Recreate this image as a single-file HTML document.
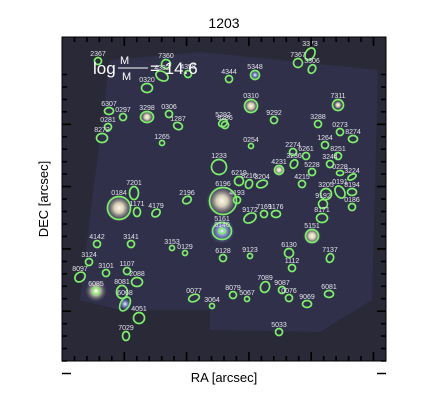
<!DOCTYPE html>
<html><head><meta charset="utf-8"><style>
html,body{margin:0;padding:0;background:#fff;}
svg{display:block;font-family:"Liberation Sans",sans-serif;}
</style></head><body>
<svg id="chart" width="440" height="400" viewBox="0 0 440 400" xmlns="http://www.w3.org/2000/svg">
<defs>
<radialGradient id="glow"><stop offset="0" stop-color="#fffbe8"/><stop offset="0.35" stop-color="#e8e0c0" stop-opacity="0.9"/><stop offset="1" stop-color="#5a5a70" stop-opacity="0"/></radialGradient>
<radialGradient id="bglow"><stop offset="0" stop-color="#f0f4ff"/><stop offset="0.4" stop-color="#8aa0e0" stop-opacity="0.8"/><stop offset="1" stop-color="#5060a0" stop-opacity="0"/></radialGradient>
</defs>
<text x="224" y="28" font-size="14" text-anchor="middle" fill="#000">1203</text>
<rect x="62" y="37" width="324" height="324" fill="#292937"/>
<polygon points="92,200 110,60 200,52 300,62 378,70 372,300 320,332 210,330 210,310 120,310 80,300" fill="#30304a"/>
<g id="stars"></g>
<g id="sources"></g>
<path id="ticks" d="" stroke="#000" stroke-width="1.6" fill="none"/>
<rect x="62" y="37" width="324" height="324" fill="none" stroke="#000" stroke-width="1"/>
<text x="93" y="74" font-size="17" fill="#fff">log</text>
<text x="120" y="64" font-size="11" fill="#fff">M</text>
<line x1="118" y1="68" x2="148" y2="68" stroke="#fff" stroke-width="1"/>
<text x="122" y="80" font-size="11" fill="#fff">M</text>
<text x="150" y="74" font-size="17" fill="#fff">= 14.6</text>
<text x="224" y="382" font-size="13" text-anchor="middle" fill="#000">RA [arcsec]</text>
<text x="48" y="199" font-size="13" text-anchor="middle" fill="#000" transform="rotate(-90 48 199)">DEC [arcsec]</text>
</svg>
<script>
const labels=["2367","7360","4358","4344","5348","3373","7367","3306","4332","0320","0310","7311","6307","0297","3298","0306","1287","5292","9292","3288","2274","0273","8274","0281","8272","1265","8286","1264","6261","0254","8251","3244","3236","4231","1233","6219","8216","3204","0228","3224","5228","4215","3205","7201","2196","4193","9192","0191","8194","0184","1171","4179","9172","7169","1176","0186","8171","5161","5151","4142","3141","3153","0129","6128","9123","6130","7137","1112","3124","3101","1107","8097","6085","8081","2088","6068","4051","7029","0077","3064","8079","5067","7089","9087","0076","9069","6081","5033","0140","6196"];
const xs=[98,166,188,229,255,310,298,312,162,147,251,338,109,123,147,169,178,223,274,318,293,340,353,108,102,162,225,325,306,251,338,330,294,279,219,239,249,262,340,352,312,302,326,134,187,237,323,340,352,119,137,156,250,264,276,352,322,222,312,97,131,172,185,223,250,289,330,292,89,106,127,80,96,122,137,125,139,126,194,212,233,247,265,282,289,307,329,279,222,223];
const ys=[61,64,74,79,75,54,63,69,76,88,106,105,111,117,117,114,126,123,120,124,152,132,139,127,138,143,125,145,156,146,156,164,164,170,167,181,184,184,173,177,172,184,194,193,200,200,204,192,192,208,212,213,218,214,214,207,218,231,236,244,244,248,253,258,256,253,258,268,262,273,271,277,291,292,282,304,318,336,298,306,295,299,287,290,298,304,294,332,231,201];
const rxs=[3,4,3,3,4,4,4,3,6,5,6,5,4,3,6,3,4,3,3,3,3,3,4,3,5,2,3,3,3,2,3,3,3,4,7,4,3,5,3,4,3,3,5,4,4,3,4,4,4,11,3,4,6,3,4,3,5,9,6,3,3,2,2,3,2,4,3,3,3,3,3,5,3,5,5,4,5,3,5,2,3,2,4,3,3,4,4,3,3,13];
const rys=[3,4,3,3,4,6,4,4,4,4,6,5,3,3,5,3,3,4,3,3,3,3,3,3,4,2,3,3,3,2,3,3,4,4,7,4,4,3,2,2,3,3,5,6,3,3,4,6,3,11,4,3,4,3,3,3,4,8,6,3,3,2,2,3,2,4,4,3,3,3,3,4,3,6,4,7,5,4,3,2,3,2,5,3,3,3,3,3,2,13];
const angs=[0,60,0,0,0,30,30,30,30,0,0,0,0,0,0,0,20,60,0,0,0,0,0,0,0,0,30,0,0,0,0,0,30,0,30,0,20,-20,0,-30,0,0,0,0,-30,0,30,-30,0,0,0,-40,-30,0,0,0,0,0,0,0,0,0,0,0,0,0,20,0,0,0,0,-40,0,0,0,30,0,0,-20,0,0,0,20,0,0,0,0,0,0,0];
const brightStars=[[119,208,14,"glow"],[222,201,16,"glow"],[222,231,13,"bglow"],[312,236,9,"glow"],[251,106,8,"glow"],[96,291,11,"glow"],[147,117,7,"glow"],[279,170,6,"glow"],[125,304,6,"bglow"],[338,105,5,"glow"],[255,75,5,"bglow"]];
const ns="http://www.w3.org/2000/svg";
const sg=document.getElementById('stars');
brightStars.forEach(s=>{const c=document.createElementNS(ns,'circle');c.setAttribute('cx',s[0]);c.setAttribute('cy',s[1]);c.setAttribute('r',s[2]);c.setAttribute('fill','url(#'+s[3]+')');


sg.appendChild(c);});
const g=document.getElementById('sources');
labels.forEach((l,i)=>{
 const e=document.createElementNS(ns,'ellipse');
 e.setAttribute('cx',xs[i]);e.setAttribute('cy',ys[i]);e.setAttribute('rx',rxs[i]+0.5);e.setAttribute('ry',rys[i]+0.5);
 e.setAttribute('transform','rotate('+angs[i]+' '+xs[i]+' '+ys[i]+')');
 e.setAttribute('fill','none');e.setAttribute('stroke','#7def6a');e.setAttribute('stroke-width','1.7');
 
 
 g.appendChild(e);
 const t=document.createElementNS(ns,'text');
 t.setAttribute('x',xs[i]);t.setAttribute('y',ys[i]-rys[i]-2);t.setAttribute('font-size','7');t.setAttribute('fill','#e4e4ec');t.setAttribute('text-anchor','middle');
 t.textContent=l;
 
 
 g.appendChild(t);
});
let d='';
for(let k=1;k<26;k++){const p=(62+k*12.46).toFixed(1);const len=(k%5===0)?9:5;
 d+='M'+p+' 361v-'+len+'M'+p+' 37v'+len+'M62 '+p+'h'+len+'M386 '+p+'h-'+len;}
document.getElementById('ticks').setAttribute('d',d);
</script>
</body></html>
